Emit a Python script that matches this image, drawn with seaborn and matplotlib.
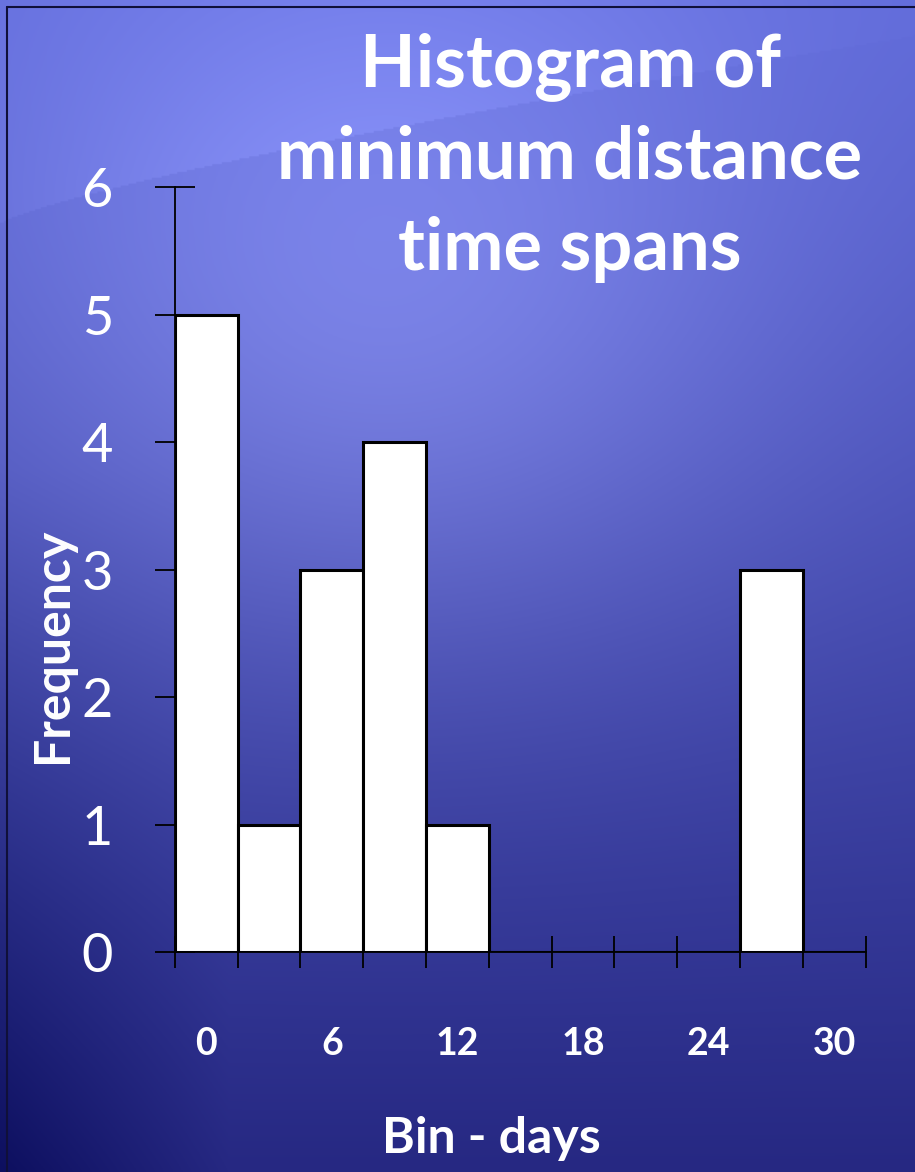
import numpy as np
import pandas as pd
import matplotlib.pyplot as plt
import seaborn as sns

bin_centers = [0, 3, 6, 9, 12, 15, 18, 21, 24, 27, 30]
counts = [5, 1, 3, 4, 1, 0, 0, 0, 0, 3, 0]
label_ticks = [0, 6, 12, 18, 24, 30]
y_ticks = [0, 1, 2, 3, 4, 5, 6]

df = pd.DataFrame({'days': bin_centers, 'count': counts})
edges = np.arange(-1.5, 31.6, 3)

sns.set_style("white")
plt.rcParams['font.family'] = ['Lato', 'DejaVu Sans']

fig = plt.figure(figsize=(9.15, 11.72), dpi=100)

# slide background: blue gradient with a soft glow
bg = fig.add_axes([0, 0, 1, 1])
h, w = 600, 470
yy, xx = np.mgrid[0:1:h * 1j, 0:1:w * 1j]
top = np.array([95, 105, 215]) / 255
bot = np.array([38, 40, 130]) / 255
t = yy[..., None] ** 1.1
img = top * (1 - t) + bot * t
glow = np.exp(-(((xx - 0.42) / 0.45) ** 2 + ((yy - 0.28) / 0.3) ** 2))[..., None]
img = img + glow * np.array([40, 40, 35]) / 255
curve = 0.19 - 0.16 * xx ** 0.8
band = ((yy < curve) & (yy > curve - 0.25)).astype(float)[..., None]
img = img + band * glow * np.array([15, 15, 15]) / 255
edge = np.clip(1 - xx / 0.25, 0, 1)[..., None] * np.clip((yy - 0.4) / 0.6, 0, 1)[..., None]
img = img - edge * np.array([25, 25, 35]) / 255
bg.imshow(np.clip(img, 0, 1), aspect='auto', extent=[0, 1, 1, 0])
bg.plot([0.008, 0.008], [0.006, 1.0], color='#10103a', lw=1.5)
bg.plot([0.008, 1.0], [0.006, 0.006], color='#10103a', lw=1.5)
bg.set_xlim(0, 1)
bg.set_ylim(1, 0)
bg.axis('off')

ax = fig.add_axes([0.191, 0.1877, 0.755, 0.6527])
ax.patch.set_alpha(0)
sns.histplot(data=df, x='days', weights='count', binwidth=3, binrange=(-1.5, 31.5), ax=ax,
             color='white', alpha=1, edgecolor='black', linewidth=2.2)
ax.set_axisbelow(True)
ax.set_xlim(-1.5, 31.5)
ax.set_ylim(0, 6)

for s in ['top', 'right']:
    ax.spines[s].set_visible(False)
for s in ['left', 'bottom']:
    ax.spines[s].set_color('black')
    ax.spines[s].set_linewidth(1.3)

ax.set_xticks(edges)
ax.set_xticklabels([])
ax.tick_params(axis='x', which='major', bottom=True, direction='inout', length=23,
               width=1.3, color='black')
ax.set_xticks(label_ticks, minor=True)
ax.set_xticklabels([str(v) for v in label_ticks], minor=True)
ax.tick_params(axis='x', which='minor', bottom=True, length=0, pad=54, labelsize=27,
               labelcolor='white')
for lbl in ax.get_xticklabels(minor=True):
    lbl.set_fontweight('bold')

ax.set_yticks(y_ticks)
ax.set_yticklabels([str(v) for v in y_ticks])
ax.tick_params(axis='y', left=True, direction='inout', length=29, width=1.3, color='black',
               pad=30, labelsize=39, labelcolor='white')

ax.set_xlabel('Bin - days', color='white', fontsize=36, fontweight='bold')
ax.xaxis.set_label_coords(0.459, -0.215)
ax.set_ylabel('Frequency', color='white', fontsize=36, fontweight='bold')
ax.yaxis.set_label_coords(-0.145, 0.401)

fig.text(0.623, 0.973, 'Histogram of\nminimum distance\ntime spans', ha='center', va='top',
         color='white', fontsize=52, fontweight='bold', linespacing=1.45)

fig.savefig('out.png', dpi=100)
